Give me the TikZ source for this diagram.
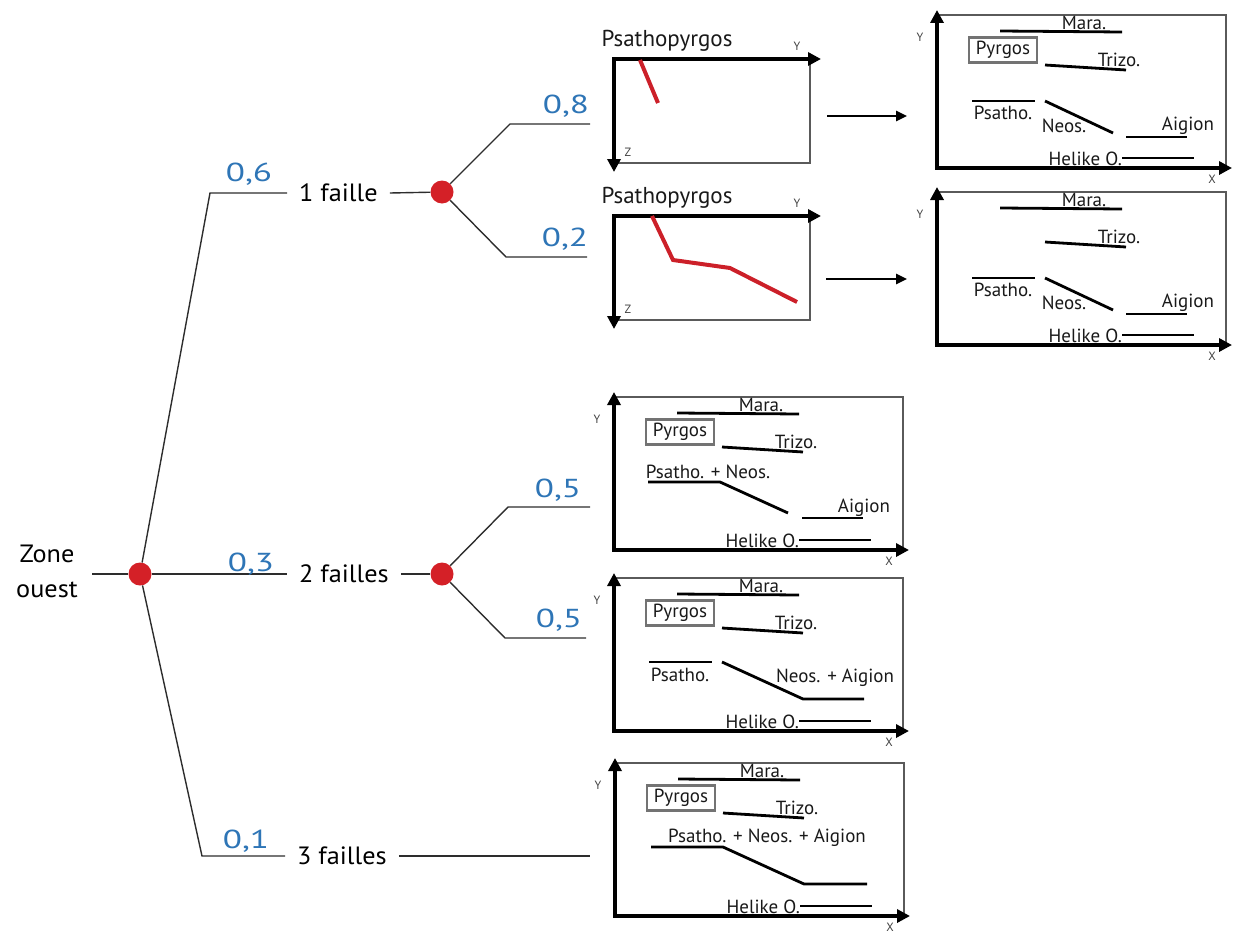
\documentclass[tikz,border=0pt]{standalone}
\usepackage{fontspec}
\setmainfont{PT Sans}
\newfontfamily\treefont[FakeStretch=1.05]{PT Sans}
\newfontfamily\probfont[FakeStretch=1.35]{PT Sans}
\usetikzlibrary{positioning, arrows.meta}
\definecolor{probblue}{RGB}{46,117,182}
\definecolor{dotred}{RGB}{212,32,39}
\definecolor{tracered}{RGB}{204,32,41}
\definecolor{framegray}{RGB}{90,90,90}
\definecolor{treegray}{RGB}{45,45,45}
\tikzset{
  branch/.style={treegray, line width=1.4pt},
  dot/.style={circle, fill=dotred, minimum size=23pt, inner sep=0pt},
  lvl/.style={font=\treefont\fontsize{25}{30}\selectfont, anchor=west, inner xsep=12pt, inner ysep=2pt},
  prob/.style={text=probblue, font=\probfont\fontsize{26}{30}\selectfont, inner sep=0pt},
  axis/.style={line width=4pt, {Triangle[length=13pt,width=13pt]}-{Triangle[length=13pt,width=13pt]}},
  mapframe/.style={framegray, line width=1.5pt},
  fault/.style={line width=2.8pt},
  trace/.style={tracered, line width=4pt},
  axlbl/.style={font=\fontsize{12}{13}\selectfont, text=black!75, inner sep=0pt},
  maplbl/.style={font=\fontsize{19}{21}\selectfont, text=black!90, inner sep=0pt},
  pyrgos/.style={draw=black!55, line width=2.5pt, maplbl, minimum width=68pt, minimum height=25pt},
  title/.style={font=\fontsize{23}{26}\selectfont, text=black!90, inner sep=0pt},
  flow/.style={-{Triangle[length=11pt,width=10pt]}, line width=2.6pt}
}
% profile: #1 name, #2 top-left corner, #3 trace
\newcommand{\drawprofile}[3]{%
  \begin{scope}[shift={(#2)}]
    \draw[mapframe] (196,0) -- (196,104) -- (0,104);
    \draw[axis] (207,0) -- (0,0) -- (0,113);
    \node[axlbl] (#1-y) at (183,-13) {Y};
    \node[axlbl] (#1-z) at (14,93) {Z};
    \node[title] (#1-t) at (53,-18) {Psathopyrgos};
    \draw[trace] #3;
  \end{scope}}
% map: #1 name, #2 axis corner, #3 traces
\newcommand{\drawmap}[3]{%
  \begin{scope}[shift={(#2)}, yscale=-1]
    \draw[mapframe] (0,153) -- (289,153) -- (289,0);
    \draw[axis] (0,158) -- (0,0) -- (295,0);
    \node[axlbl] (#1-y) at (-17,131) {Y};
    \node[axlbl] (#1-x) at (275,-11) {X};
    \draw[fault] (63,137) -- (185,136);
    \node[maplbl, anchor=south] (#1-mara) at (147,138) {Mara.};
    \draw[fault] (108,103) -- (189,98);
    \node[maplbl, anchor=south] (#1-trizo) at (182,101.5) {Trizo.};
    \draw[fault] (185,10) -- (257,10);
    \node[maplbl, anchor=east] (#1-helike) at (185,9) {Helike O.};
    #3
  \end{scope}}

\begin{document}
\begin{tikzpicture}[x=1pt, y=-1pt]
  \useasboundingbox (0,0) rectangle (1233,934);
  \node[lvl, anchor=center, align=center, inner xsep=0pt, font=\treefont\fontsize{25}{35}\selectfont] (zone) at (47,571) {Zone\\ouest};
  \node[dot] (root) at (140,574) {};
  \node[lvl] (f1) at (287,193) {1 faille};
  \node[lvl] (f2) at (287,574) {2 failles};
  \node[lvl] (f3) at (285,856) {3 failles};
  \node[dot] (d1) at (442,192) {};
  \node[dot] (d2) at (442,574) {};
  \coordinate (stub) at (92,574);
  \coordinate (k1) at (210,193);
  \coordinate (k3) at (202,856);
  \coordinate (k11) at (510,124);  \coordinate (e11) at (590,124);
  \coordinate (k12) at (506,257);  \coordinate (e12) at (587,257);
  \coordinate (k21) at (508,507);  \coordinate (e21) at (590,507);
  \coordinate (k22) at (505,638);  \coordinate (e22) at (586,638);
  \coordinate (e3) at (590,856);
  \draw[branch] (stub) -- (root);
  \draw[branch] (root) -- (k1) -- (f1.west);
  \draw[branch] (root) -- (f2.west);
  \draw[branch] (root) -- (k3) -- (f3.west);
  \draw[branch] (f1.east) -- (d1);
  \draw[branch] (f2.east) -- (d2);
  \draw[branch] (f3.east) -- (e3);
  \draw[branch] (d1) -- (k11) -- (e11);
  \draw[branch] (d1) -- (k12) -- (e12);
  \draw[branch] (d2) -- (k21) -- (e21);
  \draw[branch] (d2) -- (k22) -- (e22);
  \node[prob] (p1) at (249,174) {0,6};
  \node[prob] (p2) at (251,564) {0,3};
  \node[prob] (p3) at (246,841) {0,1};
  \node[prob] (p11) at (566,106) {0,8};
  \node[prob] (p12) at (565,239) {0,2};
  \node[prob] (p21) at (558,490) {0,5};
  \node[prob] (p22) at (559,620) {0,5};

  \drawprofile{prof1}{614,59}{(26,1) -- (44,44)}
  \drawprofile{prof2}{614,216}{(38,0) -- (59,44) -- (116,52) -- (183,86)}

  \drawmap{map1}{937,168}{
    \node[pyrgos] (map1-pyr) at (66,118) {Pyrgos};
    \draw[fault] (35,67) -- (98,67);
    \node[maplbl] (map1-psa) at (66,55) {Psatho.};
    \draw[fault] (108,67) -- (176,35);
    \node[maplbl] (map1-neo) at (127,42) {Neos.};
    \draw[fault] (189,31) -- (250,31);
    \node[maplbl] (map1-aig) at (251,42) {Aigion};}
  \drawmap{map2}{937,345}{
    \draw[fault] (35,67) -- (98,67);
    \node[maplbl] (map2-psa) at (66,55) {Psatho.};
    \draw[fault] (108,67) -- (176,35);
    \node[maplbl] (map2-neo) at (127,42) {Neos.};
    \draw[fault] (189,31) -- (250,31);
    \node[maplbl] (map2-aig) at (251,42) {Aigion};}
  \drawmap{map3}{614,550}{
    \node[pyrgos] (map3-pyr) at (66,118) {Pyrgos};
    \draw[fault] (34,68) -- (106,68) -- (174,37);
    \node[maplbl] (map3-pn) at (94,78) {Psatho. + Neos.};
    \draw[fault] (188,32) -- (249,32);
    \node[maplbl] (map3-aig) at (250,42) {Aigion};}
  \drawmap{map4}{614,731}{
    \node[pyrgos] (map4-pyr) at (66,118) {Pyrgos};
    \draw[fault] (35,69) -- (98,69);
    \node[maplbl] (map4-psa) at (66,56) {Psatho.};
    \draw[fault] (108,69) -- (189,32) -- (250,32);
    \node[maplbl] (map4-na) at (221,53) {Neos. + Aigion};}
  \drawmap{map5}{615,916}{
    \node[pyrgos] (map5-pyr) at (66,118) {Pyrgos};
    \draw[fault] (36,69) -- (108,69) -- (189,32) -- (252,32);
    \node[maplbl] (map5-pna) at (152,78) {Psatho. + Neos. + Aigion};}

  \coordinate (a1s) at (827,116);  \coordinate (a1e) at (907,116);
  \coordinate (a2s) at (826,279);  \coordinate (a2e) at (907,279);
  \draw[flow] (a1s) -- (a1e);
  \draw[flow] (a2s) -- (a2e);
\end{tikzpicture}
\end{document}
